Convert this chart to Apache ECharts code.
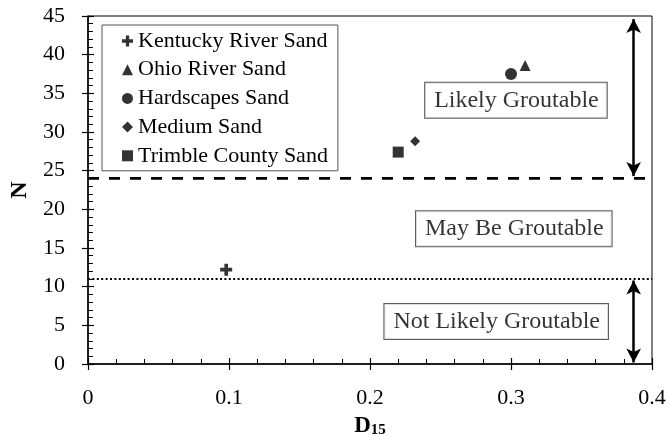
<!DOCTYPE html>
<html>
<head>
<meta charset="utf-8">
<script src="https://cdn.jsdelivr.net/npm/echarts@6/dist/echarts.min.js"></script>
<style>
  html, body { margin: 0; padding: 0; background: #fff; }
  #chart { width: 670px; height: 437px; }
</style>
</head>
<body>
<div id="chart"></div>
<script>
// Sand samples: D15 grain size vs groutability ratio N
const sandNames = ['Kentucky River Sand', 'Ohio River Sand', 'Hardscapes Sand', 'Medium Sand', 'Trimble County Sand'];
const d15Values = [0.098, 0.31, 0.30, 0.232, 0.22];
const nValues = [12.2, 38.6, 37.5, 28.8, 27.4];

// Groutability limits on N
const likelyLimit = 24;
const notLikelyLimit = 11;

// Zone annotations (text and anchor in data units)
const zoneLabels = ['Likely Groutable', 'May Be Groutable', 'Not Likely Groutable'];
const zoneD15 = [0.3035, 0.302, 0.2895];
const zoneN = [34.1, 17.5, 5.5];

// Range arrows near the right edge
const arrowD15 = 0.387;
const upperArrowN = [44.6, 24.3];
const lowerArrowN = [10.8, 0.2];

// Axis ranges and ticks
const xMin = 0, xMax = 0.4, xStep = 0.1;
const yMin = 0, yMax = 45, yStep = 5;

const FONT = 'Liberation Serif, Times New Roman, serif';
const plusPath = 'path://M3.5,0H6.5V3.5H10V6.5H6.5V10H3.5V6.5H0V3.5H3.5Z';
const markerShapes = [plusPath, 'triangle', 'circle', 'diamond', 'rect'];
const markerSizes = [12, 11, 12, 10, 11];

const chart = echarts.init(document.getElementById('chart'), null, { renderer: 'canvas' });

const pointSeries = sandNames.map((name, i) => ({
  name: name,
  type: 'scatter',
  xAxisIndex: 0,
  yAxisIndex: 0,
  symbol: markerShapes[i],
  symbolSize: markerSizes[i],
  itemStyle: { color: '#000' },
  data: [[d15Values[i], nValues[i]]],
  z: 5
}));

const limitSeries = [
  {
    name: 'likely limit',
    type: 'line',
    data: [[xMin, likelyLimit], [xMax, likelyLimit]],
    symbol: 'none',
    lineStyle: { color: '#000', width: 2.8, type: [11, 10] },
    silent: true,
    markLine: {
      silent: true,
      symbol: ['arrow', 'arrow'],
      symbolSize: [11, 14],
      label: { show: false },
      lineStyle: { color: '#000', width: 2.5, type: 'solid' },
      data: [
        [{ coord: [arrowD15, upperArrowN[0]] }, { coord: [arrowD15, upperArrowN[1]] }],
        [{ coord: [arrowD15, lowerArrowN[0]] }, { coord: [arrowD15, lowerArrowN[1]] }]
      ]
    }
  },
  {
    name: 'not likely limit',
    type: 'line',
    data: [[xMin, notLikelyLimit], [xMax, notLikelyLimit]],
    symbol: 'none',
    lineStyle: { color: '#000', width: 2, type: [2, 2.4] },
    silent: true
  }
];

const zoneSeries = {
  name: 'zones',
  type: 'scatter',
  symbolSize: 0,
  silent: true,
  data: zoneLabels.map((t, i) => ({ value: [zoneD15[i], zoneN[i]], name: t })),
  label: {
    show: true,
    position: 'inside',
    formatter: p => p.name,
    color: '#000',
    fontFamily: FONT,
    fontSize: 24,
    lineHeight: 24,
    backgroundColor: '#fff',
    borderColor: '#333',
    borderWidth: 1,
    padding: [6, 8, 5, 9]
  },
  z: 4
};

const axisFont = { fontFamily: FONT, fontSize: 22, color: '#000' };

chart.setOption({
  animation: false,
  backgroundColor: '#fff',
  grid: {
    left: 88, right: 18, top: 16, bottom: 73,
    containLabel: false,
    outerBoundsMode: 'none',
    show: true, borderColor: '#000', borderWidth: 1, backgroundColor: 'transparent'
  },
  legend: {
    data: sandNames,
    orient: 'vertical',
    left: 102, top: 25,
    padding: [5, 10, 4, 20],
    itemGap: 6.7,
    itemWidth: 11, itemHeight: 11,
    borderColor: '#555', borderWidth: 1,
    backgroundColor: '#fff',
    textStyle: { fontFamily: FONT, fontSize: 22, color: '#000', lineHeight: 22 }
  },
  xAxis: [
    {
      type: 'value', min: xMin, max: xMax, interval: xStep,
      name: '{d|D}{s|15}', nameLocation: 'middle', nameGap: 50,
      nameTextStyle: {
        rich: {
          d: { fontFamily: FONT, fontSize: 23, fontWeight: 'bold', color: '#000' },
          s: { fontFamily: FONT, fontSize: 15, fontWeight: 'bold', color: '#000', verticalAlign: 'bottom', padding: [9, 0, 0, 0] }
        }
      },
      axisLine: { lineStyle: { color: '#000', width: 1.5 } },
      axisTick: { inside: false, length: 6, lineStyle: { color: '#000', width: 1.2 } },
      splitLine: { show: false },
      axisLabel: Object.assign({ margin: 23, formatter: v => String(+v.toFixed(1)) }, axisFont)
    },
    {
      type: 'value', min: xMin, max: xMax, interval: xStep, position: 'bottom',
      axisLine: { show: false },
      axisTick: { inside: true, length: 6, lineStyle: { color: '#000', width: 1.2 } },
      minorTick: { show: true, splitNumber: 5, length: 5, lineStyle: { color: '#000', width: 1 } },
      axisLabel: { show: false },
      splitLine: { show: false }
    }
  ],
  yAxis: [
    {
      type: 'value', min: yMin, max: yMax, interval: yStep,
      name: 'N', nameLocation: 'middle', nameGap: 54, nameRotate: 90,
      nameTextStyle: { fontFamily: FONT, fontSize: 24, fontWeight: 'bold', color: '#000' },
      axisLine: { lineStyle: { color: '#000', width: 1.5 } },
      axisTick: { inside: false, length: 6, lineStyle: { color: '#000', width: 1.2 } },
      splitLine: { show: false },
      axisLabel: Object.assign({ margin: 23 }, axisFont)
    },
    {
      type: 'value', min: yMin, max: yMax, interval: yStep, position: 'left',
      axisLine: { show: false },
      axisTick: { inside: true, length: 6, lineStyle: { color: '#000', width: 1.2 } },
      minorTick: { show: true, splitNumber: 5, length: 5, lineStyle: { color: '#000', width: 1 } },
      axisLabel: { show: false },
      splitLine: { show: false }
    }
  ],
  series: limitSeries.concat([zoneSeries]).concat(pointSeries)
});
</script>
</body>
</html>
